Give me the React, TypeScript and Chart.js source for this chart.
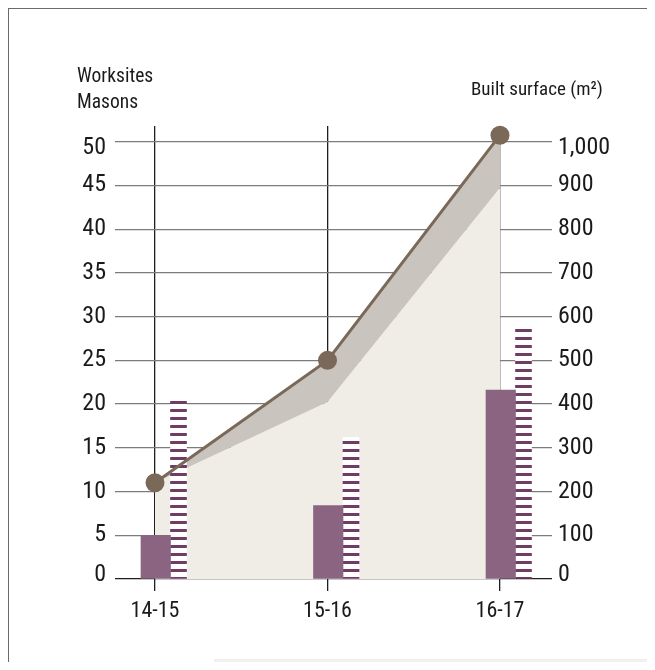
import React, { useEffect, useRef } from 'react';
import { Chart, registerables } from 'chart.js';

Chart.register(...registerables);

// ---- data ----
const categories = ['14-15', '15-16', '16-17'];
const worksites = [5, 8.4, 21.6];
const masons = [20.5, 16.2, 29];
const builtSurface = [220, 500, 1015];
const builtSurfaceLower = [220, 405, 895];
const leftTitleLines = ['Worksites', 'Masons'];
const rightTitle = 'Built surface (m\u00B2)';

const FONT = '"Liberation Sans Narrow", "Roboto Condensed", "DejaVu Sans Condensed", "Liberation Sans", sans-serif';
const BAR_SHIFT = 15.5;
const LEFT_MAX = 51.8;
const RIGHT_MAX = LEFT_MAX * 20;

function makeStripe(): CanvasPattern | string {
  const c = document.createElement('canvas');
  c.width = 16;
  c.height = 8;
  const g = c.getContext('2d');
  if (!g) return '#6f3d63';
  g.fillStyle = '#ffffff';
  g.fillRect(0, 0, 16, 8);
  g.fillStyle = '#6f3d63';
  g.fillRect(0, 0, 16, 3);
  const p = g.createPattern(c, 'repeat');
  return p || '#6f3d63';
}

const barShift = {
  id: 'barShift',
  afterDatasetsUpdate(chart: any) {
    chart.data.datasets.forEach((_ds: any, i: number) => {
      const meta = chart.getDatasetMeta(i);
      if (meta.type === 'bar') {
        meta.data.forEach((el: any) => {
          el.x += BAR_SHIFT;
        });
      }
    });
  },
};

// nudges the extreme y labels inward, as in the reference
const edgeLabels = {
  id: 'edgeLabels',
  beforeDraw(chart: any) {
    ['y', 'y2'].forEach((id) => {
      const s = chart.scales[id];
      if (!s) return;
      const items = s.getLabelItems(chart.chartArea);
      if (!items || !items.length) return;
      const first = items[0];
      const last = items[items.length - 1];
      if (first && first.options && first.options.translation) first.options.translation[1] -= 4;
      if (last && last.options && last.options.translation) last.options.translation[1] += 6.5;
    });
  },
};

export default function App() {
  const ref = useRef<HTMLCanvasElement | null>(null);

  useEffect(() => {
    if (!ref.current) return;
    const stripe = makeStripe();
    const gridColor = (ctx: any) => (ctx.tick && ctx.tick.value === 0 ? '#1e1e1e' : '#7c7c7c');
    const chart = new Chart(ref.current, {
      type: 'line',
      data: {
        labels: categories,
        datasets: [
          {
            type: 'line',
            label: 'lower',
            data: builtSurfaceLower,
            yAxisID: 'y2',
            borderWidth: 0,
            pointRadius: 0,
            backgroundColor: '#f0ece6',
            fill: 'origin',
            order: 3,
          },
          {
            type: 'line',
            label: rightTitle,
            data: builtSurface,
            yAxisID: 'y2',
            borderColor: '#7a6858',
            borderWidth: 3,
            backgroundColor: '#c9c4be',
            pointBackgroundColor: '#7a6858',
            pointBorderWidth: 0,
            pointRadius: 9.5,
            fill: '-1',
            clip: false,
            order: 0,
          },
          {
            type: 'bar',
            label: leftTitleLines[0],
            data: worksites,
            yAxisID: 'y',
            backgroundColor: '#8a6480',
            barThickness: 29.5,
            clip: false,
            order: 1,
          },
          {
            type: 'bar',
            label: leftTitleLines[1],
            data: masons,
            yAxisID: 'y',
            backgroundColor: stripe as any,
            barThickness: 16,
            clip: false,
            order: 1,
          },
        ],
      },
      options: {
        animation: false,
        responsive: false,
        maintainAspectRatio: false,
        layout: { padding: { top: 117, left: 0, right: 0, bottom: 0 } },
        plugins: {
          legend: { display: false },
          tooltip: { enabled: false },
          filler: { drawTime: 'beforeDatasetsDraw' },
        },
        scales: {
          x: {
            type: 'category',
            offset: false,
            grid: {
              offset: false,
              color: '#1e1e1e',
              lineWidth: 1.3,
              tickLength: 12,
              drawOnChartArea: true,
            },
            border: { display: false },
            ticks: {
              color: '#1a1a1a',
              padding: 7,
              font: { family: FONT, size: 22 },
              maxRotation: 0,
            },
            afterFit(scale: any) {
              scale.height = 91;
            },
          },
          y: {
            type: 'linear',
            position: 'left',
            min: 0,
            max: LEFT_MAX,
            grid: {
              color: gridColor,
              tickColor: gridColor,
              lineWidth: 1.3,
              tickLength: 40,
            },
            border: { display: false },
            ticks: {
              stepSize: 5,
              includeBounds: false,
              color: '#1a1a1a',
              padding: 9,
              font: { family: FONT, size: 24 },
            },
            afterFit(scale: any) {
              scale.width = 146;
            },
          },
          y2: {
            type: 'linear',
            position: 'right',
            min: 0,
            max: RIGHT_MAX,
            grid: {
              drawOnChartArea: false,
              color: gridColor,
              tickColor: gridColor,
              lineWidth: 1.3,
              tickLength: 52,
            },
            border: { display: false },
            ticks: {
              stepSize: 100,
              includeBounds: false,
              color: '#1a1a1a',
              padding: 6,
              font: { family: FONT, size: 24 },
              callback: (v: any) => Number(v).toLocaleString('en-US'),
            },
            afterFit(scale: any) {
              scale.width = 155;
            },
          },
        },
      } as any,
      plugins: [barShift, edgeLabels],
    });
    return () => chart.destroy();
  }, []);

  return (
    <div style={{ position: 'relative', width: 647, height: 654 }}>
      <div
        style={{
          position: 'absolute',
          left: 0,
          top: 0,
          width: 647,
          height: 662,
          boxSizing: 'border-box',
          borderTop: '1px solid #6a6a6a',
          borderLeft: '1px solid #6a6a6a',
          background: '#ffffff',
        }}
      />
      <canvas
        ref={ref}
        width={646}
        height={661}
        style={{ position: 'absolute', left: 1, top: 1, width: 646, height: 661 }}
      />
      <div
        style={{
          position: 'absolute',
          left: 69,
          top: 55,
          fontFamily: FONT,
          fontSize: 19.5,
          lineHeight: '26px',
          color: '#1a1a1a',
        }}
      >
        {leftTitleLines.map((t) => (
          <div key={t}>{t}</div>
        ))}
      </div>
      <div
        style={{
          position: 'absolute',
          left: 463,
          top: 68,
          fontFamily: FONT,
          fontSize: 19,
          lineHeight: '26px',
          color: '#1a1a1a',
          whiteSpace: 'nowrap',
        }}
      >
        {rightTitle}
      </div>
      <div
        style={{
          position: 'absolute',
          left: 206,
          top: 651,
          width: 441,
          height: 11,
          background: '#f3f0eb',
        }}
      />
    </div>
  );
}
